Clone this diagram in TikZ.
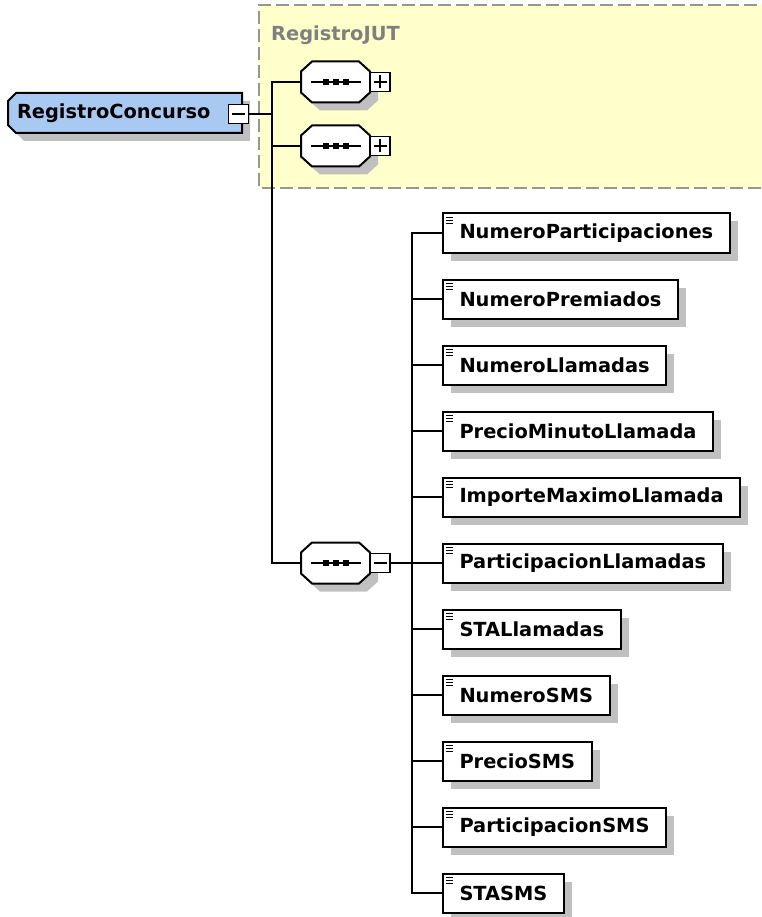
\documentclass[tikz,border=0pt]{standalone}
\usepackage{fontspec}
\setmainfont{DejaVu Sans}
\usetikzlibrary{shadows}
\definecolor{yel}{RGB}{255,255,204}
\definecolor{dashc}{RGB}{150,150,150}
\definecolor{rootc}{RGB}{168,202,242}
\definecolor{shadowc}{RGB}{192,192,192}
\definecolor{labc}{RGB}{128,128,128}
\tikzset{
  shd/.style={general shadow={fill=shadowc, shadow xshift=8pt, shadow yshift=-8pt}},
  conn/.style={line width=2pt, black},
  outl/.style={draw, line width=2pt, shd},
  txt/.style={font=\fontsize{19.4}{22}\selectfont\bfseries},
  rootnode/.style={rectangle, txt, text width=216pt, align=left,
     inner xsep=9pt, inner ysep=0pt, minimum height=40pt},
  seqnode/.style={rectangle, minimum width=69pt, minimum height=41pt, inner sep=0pt},
  pmbox/.style={draw, line width=1.5pt, fill=white, minimum width=20pt, minimum height=19pt, inner sep=0pt},
  elem/.style={draw, line width=2pt, fill=white, shd, txt, anchor=west, minimum height=39pt,
     inner xsep=16.5pt, inner ysep=0pt},
}
% octagon: cx cy halfw halfh cutx cuty
\newcommand{\octo}[6]{%
  \path[outl, fill=white] (#1-#3+#5,#2-#4) -- (#1+#3-#5,#2-#4) -- (#1+#3,#2-#4+#6) -- (#1+#3,#2+#4-#6)
    -- (#1+#3-#5,#2+#4) -- (#1-#3+#5,#2+#4) -- (#1-#3,#2+#4-#6) -- (#1-#3,#2-#4+#6) -- cycle;}
\newcommand{\seqsym}[1]{%
  \draw[line width=1.5pt] ([xshift=-25pt]#1.center) -- ([xshift=25pt]#1.center);
  \foreach \dx in {-10,0,10}{\fill ([xshift=\dx pt-3pt,yshift=-3pt]#1.center) rectangle ([xshift=\dx pt+3pt,yshift=3pt]#1.center);}
}
\newcommand{\plussym}[1]{%
  \draw[line width=2pt] ([xshift=-6.5pt]#1.center) -- ([xshift=6.5pt]#1.center);
  \draw[line width=2pt] ([yshift=-6.5pt]#1.center) -- ([yshift=6.5pt]#1.center);
}
\newcommand{\minussym}[1]{%
  \draw[line width=2pt] ([xshift=-6.5pt]#1.center) -- ([xshift=6.5pt]#1.center);
}
\begin{document}
\begin{tikzpicture}[x=1pt,y=-1pt]
\useasboundingbox (0,0) rectangle (761,917);
% group box
\fill[yel] (259,5) rectangle (775,188);
\draw[dashc, line width=2.2pt, dash pattern=on 13pt off 5pt] (775,5) -- (259,5) -- (259,188) -- (775,188);
\node[anchor=base west, txt, text=labc, inner sep=0pt] (lab) at (271,41) {RegistroJUT};

% root
\path[outl, fill=rootc] (16,93) -- (242,93) -- (242,133) -- (16,133) -- (8,125) -- (8,101) -- cycle;
\node[rootnode] (root) at (125,113) {RegistroConcurso};
\node[pmbox] (rootm) at (238.5,114) {};
\minussym{rootm}

% sequences
\octo{335.5}{82}{34.5}{20.5}{11}{10}
\octo{335.5}{146}{34.5}{20.5}{11}{10}
\octo{335.5}{563}{34.5}{20.5}{11}{10}
\node[seqnode] (s1) at (335.5,82) {};
\node[seqnode] (s2) at (335.5,146) {};
\node[seqnode] (s3) at (335.5,563) {};
\node[pmbox] (p1) at (380,82) {};
\node[pmbox] (p2) at (380,146) {};
\node[pmbox] (m3) at (380,563) {};
\seqsym{s1}\seqsym{s2}\seqsym{s3}
\plussym{p1}\plussym{p2}\minussym{m3}

\coordinate (j1) at (272,114);
\draw[conn] (rootm.east) -- (j1);
\draw[conn] (s1.west) -| (j1);
\draw[conn] (s2.west) -| (j1);
\draw[conn] (s3.west) -| (j1);

% elements
\foreach \n/\t [count=\i] in {233/NumeroParticipaciones,299/NumeroPremiados,365/NumeroLlamadas,
  431/PrecioMinutoLlamada,497/ImporteMaximoLlamada,563/ParticipacionLlamadas,629/STALlamadas,
  695/NumeroSMS,761/PrecioSMS,827/ParticipacionSMS,893/STASMS}{
  \node[elem] (e\i) at (442,\n) {\t};
  \foreach \k in {5,8,11}{
    \draw[line width=1pt] ([xshift=3.5pt,yshift=-\k pt]e\i.north west) -- ([xshift=11pt,yshift=-\k pt]e\i.north west);
  }
}
\coordinate (j2) at (412,563);
\draw[conn] (m3.east) -- (j2);
\foreach \i in {1,...,11}{
  \draw[conn] (e\i.west) -| (j2);
}
\end{tikzpicture}
\end{document}
